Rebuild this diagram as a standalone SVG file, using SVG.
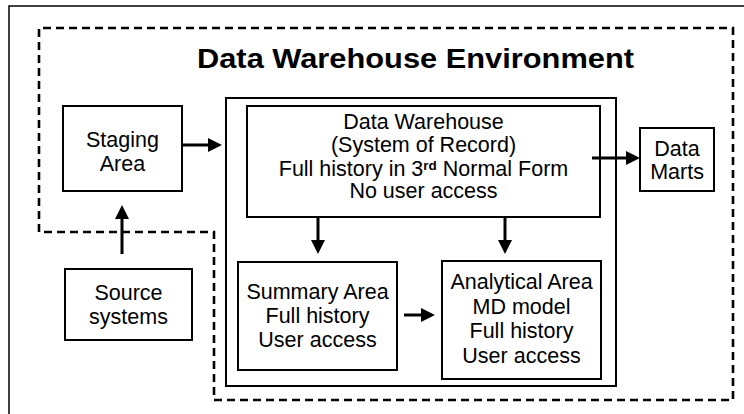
<svg xmlns="http://www.w3.org/2000/svg" width="744" height="414" viewBox="0 0 744 414">
<defs>
<style>
.box{fill:#fff;stroke:#000;stroke-width:2}
.t{font-family:"Liberation Sans",Arial,sans-serif;font-size:21.5px;fill:#000;text-anchor:middle}
.title{font-family:"Liberation Sans",Arial,sans-serif;font-size:27.5px;font-weight:bold;fill:#000}
.arr{stroke:#000;stroke-width:3;fill:none;marker-end:url(#ah)}
.dash{fill:none;stroke:#000;stroke-width:2.6;stroke-dasharray:8 5}
</style>
<marker id="ah" viewBox="0 0 14 14" refX="6" refY="7" markerWidth="14" markerHeight="14" markerUnits="userSpaceOnUse" orient="auto">
<path d="M0,0 L14,7 L0,14 z" fill="#000"/>
</marker>
</defs>
<rect width="744" height="414" fill="#fff"/>
<path d="M9,414 L9,6 L744,6" fill="none" stroke="#000" stroke-width="1.5"/>
<path id="environment" class="dash" d="M39,232 L39,28 L733,28 L733,400 L214,400 L214,232 Z"/>
<text class="title" x="197" y="68" textLength="437" lengthAdjust="spacingAndGlyphs">Data Warehouse Environment</text>

<g id="container"><rect class="box" x="226" y="98" width="390" height="288"/></g>

<g id="staging">
<rect class="box" x="63" y="106" width="119" height="85"/>
<text class="t" x="122.5" y="147">Staging</text>
<text class="t" x="122.5" y="171">Area</text>
</g>

<g id="source">
<rect class="box" x="65" y="269" width="127" height="71"/>
<text class="t" x="128.5" y="300">Source</text>
<text class="t" x="128.5" y="324">systems</text>
</g>

<g id="dw">
<rect class="box" x="247" y="106" width="353" height="111"/>
<text class="t" x="423.5" y="129">Data Warehouse</text>
<text class="t" x="423.5" y="151.5">(System of Record)</text>
<text class="t" x="423.5" y="175.5">Full history in 3<tspan font-size="13.5" font-weight="bold" dy="-6">rd</tspan><tspan dy="6"> Normal Form</tspan></text>
<text class="t" x="423.5" y="198">No user access</text>
</g>

<g id="marts">
<rect class="box" x="640" y="128" width="74" height="63"/>
<text class="t" x="677" y="156">Data</text>
<text class="t" x="677" y="179">Marts</text>
</g>

<g id="summary">
<rect class="box" x="238" y="262" width="159" height="108"/>
<text class="t" x="317.5" y="299">Summary Area</text>
<text class="t" x="317.5" y="323">Full history</text>
<text class="t" x="317.5" y="347">User access</text>
</g>

<g id="analytical">
<rect class="box" x="442" y="261" width="159" height="118"/>
<text class="t" x="521.5" y="289">Analytical Area</text>
<text class="t" x="521.5" y="314">MD model</text>
<text class="t" x="521.5" y="338">Full history</text>
<text class="t" x="521.5" y="363">User access</text>
</g>

<g id="connectors">
<line class="arr" x1="182" y1="145" x2="214" y2="145"/>
<line class="arr" x1="122" y1="254" x2="122" y2="213"/>
<line class="arr" x1="592" y1="158" x2="632" y2="158"/>
<line class="arr" x1="318" y1="218" x2="318" y2="246"/>
<line class="arr" x1="505" y1="218" x2="505" y2="246"/>
<line class="arr" x1="404" y1="315" x2="427" y2="315"/>
</g>
</svg>
